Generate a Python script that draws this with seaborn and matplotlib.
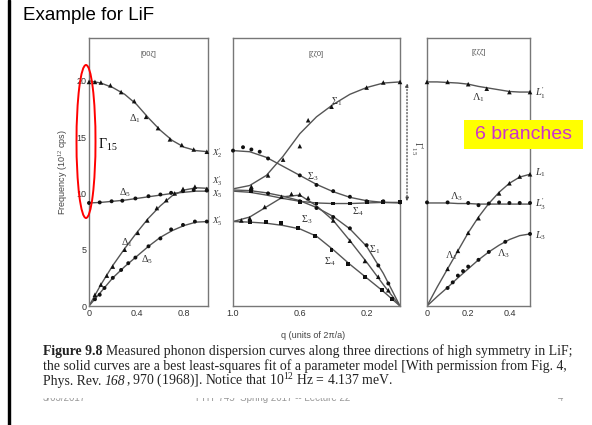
import numpy as np
import pandas as pd
import seaborn as sns
import matplotlib.pyplot as plt
from matplotlib.patches import Ellipse, Rectangle

sns.set_style("white")
plt.rcParams['font.family'] = ['Liberation Sans', 'DejaVu Sans']
plt.rcParams['mathtext.fontset'] = 'custom'
plt.rcParams['mathtext.rm'] = 'Liberation Serif'
plt.rcParams['mathtext.it'] = 'Liberation Serif:italic'
plt.rcParams['mathtext.bf'] = 'Liberation Serif:bold'

# ---- [00z] direction: fitted curves
q_00z = [0.0, 0.1, 0.2, 0.3, 0.4, 0.5, 0.6, 0.7, 0.8, 0.9, 1.0]
lo_00z = [20.0, 19.8, 19.4, 18.8, 17.9, 16.7, 15.6, 14.7, 14.1, 13.8, 13.7]
to_00z = [9.15, 9.2, 9.3, 9.4, 9.55, 9.7, 9.85, 10.0, 10.1, 10.2, 10.2]
la_00z = [0.0, 1.9, 3.6, 5.1, 6.5, 7.8, 8.9, 9.8, 10.3, 10.5, 10.45]
ta_00z = [0.0, 1.25, 2.5, 3.5, 4.4, 5.3, 6.1, 6.7, 7.15, 7.45, 7.5]

# ---- [00z] measured points
lo_00z_q = [0.0, 0.05, 0.1, 0.18, 0.27, 0.38, 0.48, 0.58, 0.68, 0.78, 0.88, 0.99]
lo_00z_f = [19.9, 19.9, 19.85, 19.6, 19.0, 18.2, 16.8, 15.8, 14.8, 14.3, 13.9, 13.7]
to_00z_q = [0.0, 0.09, 0.19, 0.28, 0.39, 0.5, 0.6, 0.69, 0.79, 0.88, 0.99]
to_00z_f = [9.15, 9.2, 9.3, 9.35, 9.55, 9.75, 9.9, 10.05, 10.2, 10.3, 10.25]
la_00z_q = [0.05, 0.1, 0.15, 0.2, 0.3, 0.41, 0.49, 0.57, 0.65, 0.72, 0.79, 0.89, 0.99]
la_00z_f = [1.0, 1.9, 2.7, 3.5, 5.0, 6.5, 7.6, 8.7, 9.4, 10.0, 10.4, 10.6, 10.4]
ta_00z_q = [0.05, 0.09, 0.13, 0.2, 0.27, 0.33, 0.39, 0.5, 0.6, 0.69, 0.79, 0.89, 0.99]
ta_00z_f = [0.6, 1.0, 1.6, 2.5, 3.2, 3.8, 4.3, 5.3, 6.0, 6.8, 7.2, 7.5, 7.5]

# ---- [zz0] direction: fitted curves
q_zz0 = [1.0, 0.9, 0.8, 0.7, 0.6, 0.5, 0.4, 0.3, 0.2, 0.1, 0.0]
s1_lo = [10.4, 10.7, 11.6, 13.3, 15.3, 16.8, 17.9, 18.8, 19.4, 19.8, 19.9]
s3_up = [13.8, 13.7, 13.2, 12.4, 11.6, 10.8, 10.15, 9.65, 9.35, 9.2, 9.15]
s4_up = [10.2, 10.1, 9.85, 9.55, 9.3, 9.15, 9.1, 9.1, 9.15, 9.2, 9.2]
s1_la = [10.3, 10.25, 10.05, 9.75, 9.35, 8.75, 7.95, 6.85, 5.3, 2.9, 0.0]
s3_mid = [7.5, 7.9, 8.8, 9.7, 9.85, 8.9, 7.6, 5.8, 3.9, 1.9, 0.0]
s4_low = [7.5, 7.45, 7.35, 7.15, 6.85, 6.2, 5.0, 3.7, 2.5, 1.3, 0.0]

# ---- [zz0] measured points
s1_lo_q = [0.0, 0.1, 0.2, 0.41, 0.55, 0.6, 0.7, 0.79, 0.89]
s1_lo_f = [19.9, 19.85, 19.4, 17.7, 16.5, 14.2, 13.0, 11.6, 10.6]
s3_up_q = [1.0, 0.94, 0.89, 0.84, 0.79, 0.6, 0.5, 0.4, 0.3, 0.2, 0.1, 0.0]
s3_up_f = [13.8, 14.1, 13.9, 13.7, 13.1, 11.6, 10.75, 10.2, 9.7, 9.3, 9.3, 9.2]
s4_up_q = [0.89, 0.6, 0.5, 0.4, 0.3, 0.2, 0.1, 0.0]
s4_up_f = [10.2, 9.2, 9.1, 9.1, 9.1, 9.2, 9.2, 9.2]
s1_la_q = [0.89, 0.79, 0.6, 0.5, 0.4, 0.3, 0.2, 0.13, 0.07]
s1_la_f = [10.3, 10.0, 9.3, 8.7, 7.9, 6.9, 5.4, 3.6, 2.0]
s3_mid_q = [0.95, 0.9, 0.81, 0.71, 0.65, 0.6, 0.55, 0.4, 0.3, 0.21, 0.13, 0.07]
s3_mid_f = [7.6, 7.8, 8.8, 9.7, 9.95, 9.9, 9.6, 7.6, 5.8, 4.0, 2.6, 1.4]
s4_low_q = [0.9, 0.8, 0.71, 0.61, 0.51, 0.41, 0.31, 0.21, 0.11, 0.05]
s4_low_f = [7.5, 7.5, 7.4, 6.9, 6.2, 5.0, 3.7, 2.6, 1.4, 0.6]

# ---- [zzz] direction: fitted curves
q_zzz = [0.0, 0.05, 0.1, 0.15, 0.2, 0.25, 0.3, 0.35, 0.4, 0.45, 0.5]
l1_lo = [19.9, 19.9, 19.85, 19.8, 19.7, 19.5, 19.35, 19.2, 19.05, 19.0, 19.0]
l3_to = [9.15, 9.15, 9.15, 9.1, 9.1, 9.05, 9.05, 9.05, 9.05, 9.05, 9.05]
l1_la = [0.0, 1.7, 3.3, 4.9, 6.5, 7.9, 9.1, 10.1, 10.9, 11.45, 11.7]
l3_ta = [0.0, 0.85, 1.65, 2.5, 3.3, 4.1, 4.8, 5.4, 5.9, 6.25, 6.4]

# ---- [zzz] measured points
l1_lo_q = [0.0, 0.1, 0.2, 0.29, 0.4, 0.5]
l1_lo_f = [19.9, 19.9, 19.7, 19.3, 19.0, 19.0]
l3_to_q = [0.0, 0.1, 0.2, 0.25, 0.3, 0.35, 0.4, 0.45, 0.5]
l3_to_f = [9.2, 9.2, 9.15, 8.95, 9.1, 9.2, 9.15, 9.15, 9.15]
l1_la_q = [0.1, 0.15, 0.2, 0.25, 0.35, 0.4, 0.45, 0.5]
l1_la_f = [3.3, 4.9, 6.5, 7.8, 10.0, 10.9, 11.5, 11.7]
l3_ta_q = [0.1, 0.125, 0.15, 0.175, 0.2, 0.25, 0.3, 0.38, 0.5]
l3_ta_f = [1.6, 2.1, 2.7, 3.1, 3.5, 4.1, 4.8, 5.7, 6.4]

W, H = 592, 425
fig = plt.figure(figsize=(W / 100, H / 100), dpi=100)


def px(x, y):
    return x / W, 1 - y / H


def make_ax(x0, x1):
    ax = fig.add_axes([x0 / W, 1 - 306 / H, (x1 - x0) / W, 268 / H])
    ax.set_ylim(0, 23.8)
    for s in ax.spines.values():
        s.set_color('#777777')
        s.set_linewidth(1.0)
    ax.tick_params(direction='in', length=3.5, width=0.8, color='#666666',
                   labelcolor='#333333', labelsize=6.5, pad=2)
    ax.set_yticks([0, 5, 10, 15, 20])
    return ax


curve_col = '#555555'
pt_col = '#111111'


def branch(ax, qc, fc, qp, fp, mk):
    sns.lineplot(x=qc, y=fc, ax=ax, color=curve_col, linewidth=1.0,
                 estimator=None, sort=False)
    size = 11 if mk == '^' else 8
    sns.scatterplot(x=qp, y=fp, ax=ax, marker=mk, s=size, color=pt_col,
                    edgecolor='none', linewidth=0, zorder=3, clip_on=False)


lab = dict(fontsize=7.5, color='#333333', ha='center', va='center')

# panel 1
ax1 = make_ax(89, 208)
ax1.set_xlim(0, 1.0)
branch(ax1, q_00z, lo_00z, lo_00z_q, lo_00z_f, '^')
branch(ax1, q_00z, to_00z, to_00z_q, to_00z_f, 'o')
branch(ax1, q_00z, la_00z, la_00z_q, la_00z_f, '^')
branch(ax1, q_00z, ta_00z, ta_00z_q, ta_00z_f, 'o')
ax1.set_xticks([0, 0.2, 0.4, 0.6, 0.8])
ax1.set_xticklabels(['0', '', '0.4', '', '0.8'])
ax1.set_yticklabels(['0', '5', '10', '15', '20'])
ax1.text(0.5, 22.3, '[00ζ]', fontsize=5.5, color='#555555', ha='center', va='center')
ax1.text(0.39, 16.6, r'$\Delta_1$', **lab)
ax1.text(0.30, 10.1, r'$\Delta_5$', **lab)
ax1.text(0.32, 5.6, r'$\Delta_1$', **lab)
ax1.text(0.49, 4.1, r'$\Delta_5$', **lab)
for y, t in [(13.6, r"$X_2^{\prime}$"), (11.1, r"$X_3^{\prime}$"),
             (9.9, r"$X_5$"), (7.5, r"$X_5^{\prime}$")]:
    ax1.text(1.03, y, t, fontsize=6.5, color='#333333', ha='left', va='center', clip_on=False)
ax1.set_ylabel('Frequency (10$^{12}$ cps)', fontsize=6.5, color='#444444', labelpad=5)

# panel 2
ax2 = make_ax(233, 400)
ax2.set_xlim(1.0, 0.0)
branch(ax2, q_zz0, s1_lo, s1_lo_q, s1_lo_f, '^')
branch(ax2, q_zz0, s3_up, s3_up_q, s3_up_f, 'o')
branch(ax2, q_zz0, s4_up, s4_up_q, s4_up_f, 's')
branch(ax2, q_zz0, s1_la, s1_la_q, s1_la_f, 'o')
branch(ax2, q_zz0, s3_mid, s3_mid_q, s3_mid_f, '^')
branch(ax2, q_zz0, s4_low, s4_low_q, s4_low_f, 's')
ax2.set_xticks([1.0, 0.8, 0.6, 0.4, 0.2])
ax2.set_xticklabels(['1.0', '', '0.6', '', '0.2'])
ax2.set_yticklabels([])
ax2.text(0.5, 22.3, '[ζζ0]', fontsize=5.5, color='#555555', ha='center', va='center')
ax2.text(0.38, 18.1, r'$\Sigma_1$', **lab)
ax2.text(0.52, 11.5, r'$\Sigma_3$', **lab)
ax2.text(0.25, 8.4, r'$\Sigma_4$', **lab)
ax2.text(0.56, 7.7, r'$\Sigma_3$', **lab)
ax2.text(0.15, 5.0, r'$\Sigma_1$', **lab)
ax2.text(0.42, 3.9, r'$\Sigma_4$', **lab)
ax2.annotate('', xy=(-0.042, 19.8), xytext=(-0.042, 9.3), annotation_clip=False,
             arrowprops=dict(arrowstyle='<|-|>', linestyle=':', color='#444444',
                             lw=0.9, mutation_scale=5, shrinkA=0, shrinkB=0))
ax2.text(-0.10, 14.0, r"$\Gamma_{15}^{\prime}$", fontsize=7, color='#444444',
         rotation=270, ha='center', va='center', clip_on=False)

# panel 3
ax3 = make_ax(427, 530)
ax3.set_xlim(0, 0.5)
branch(ax3, q_zzz, l1_lo, l1_lo_q, l1_lo_f, '^')
branch(ax3, q_zzz, l3_to, l3_to_q, l3_to_f, 'o')
branch(ax3, q_zzz, l1_la, l1_la_q, l1_la_f, '^')
branch(ax3, q_zzz, l3_ta, l3_ta_q, l3_ta_f, 'o')
ax3.set_xticks([0, 0.1, 0.2, 0.3, 0.4])
ax3.set_xticklabels(['0', '', '0.2', '', '0.4'])
ax3.set_yticklabels([])
ax3.text(0.25, 22.5, '[ζζζ]', fontsize=5.5, color='#555555', ha='center', va='center')
ax3.text(0.25, 18.5, r'$\Lambda_1$', **lab)
ax3.text(0.145, 9.7, r'$\Lambda_3$', **lab)
ax3.text(0.12, 4.5, r'$\Lambda_1$', **lab)
ax3.text(0.37, 4.6, r'$\Lambda_3$', **lab)
for y, t in [(18.9, r"$L_1^{\prime}$"), (11.8, r"$L_1$"),
             (9.0, r"$L_3^{\prime}$"), (6.2, r"$L_3$")]:
    ax3.text(0.525, y, t, fontsize=7.5, color='#333333', ha='left', va='center', clip_on=False)

fig.text(*px(313, 335), 'q (units of 2π/a)', fontsize=6.5, color='#444444',
         ha='center', va='center')

# slide annotations
fig.text(*px(23, 16), 'Example for LiF', fontsize=13.5, color='black', ha='left', va='center')
fig.add_artist(Rectangle((7.5 / W, 0), 2.7 / W, 1, transform=fig.transFigure,
                         color='black', zorder=10))
fig.add_artist(Ellipse(px(86, 141.5), 19 / W, 153 / H, transform=fig.transFigure,
                       fill=False, edgecolor='red', linewidth=1.4, zorder=10))
fig.text(*px(98, 145), r'$\Gamma_{15}$', fontsize=10, color='black', ha='left', va='center')
fig.add_artist(Rectangle(px(464, 149), 119 / W, 29 / H, transform=fig.transFigure,
                         facecolor='#FFFF00', edgecolor='none', zorder=5))
fig.text(*px(523.5, 134.5), '6 branches', fontsize=14, color='#CC33CC',
         ha='center', va='center', zorder=6)

# caption, written piece by piece so bold / italic parts use the real serif faces
renderer = fig.canvas.get_renderer()


def caption_line(y, pieces):
    x = 43
    for txt, weight, style in pieces:
        t = fig.text(*px(x, y), txt, fontsize=9.9, family='Liberation Serif',
                     weight=weight, style=style, color='#222222', ha='left', va='baseline')
        x += t.get_window_extent(renderer).width


caption_line(355, [('Figure 9.8 ', 'bold', 'normal'),
                   ('Measured phonon dispersion curves along three directions of high '
                    'symmetry in LiF;', 'normal', 'normal')])
caption_line(370, [('the solid curves are a best least-squares fit of a parameter model '
                    '[With permission from Fig. 4,', 'normal', 'normal')])
caption_line(385, [('Phys. Rev. ', 'normal', 'normal'), ('168', 'normal', 'italic'),
                   (', 970 (1968)]. Notice that 10$^{12}$ Hz = 4.137 meV.', 'normal', 'normal')])

# footer (half hidden behind the figure image)
foot = dict(fontsize=7, color='#999999', va='center', zorder=4)
fig.text(*px(43, 398), '3/03/2017', ha='left', **foot)
fig.text(*px(273, 398), 'PHY 745  Spring 2017 -- Lecture 22', ha='center', **foot)
fig.text(*px(560, 398), '4', ha='center', **foot)
fig.add_artist(Rectangle(px(20, 397.5), 560 / W, 8 / H, transform=fig.transFigure,
                         facecolor='white', edgecolor='none', zorder=8))

fig.savefig('out.png', dpi=100)
